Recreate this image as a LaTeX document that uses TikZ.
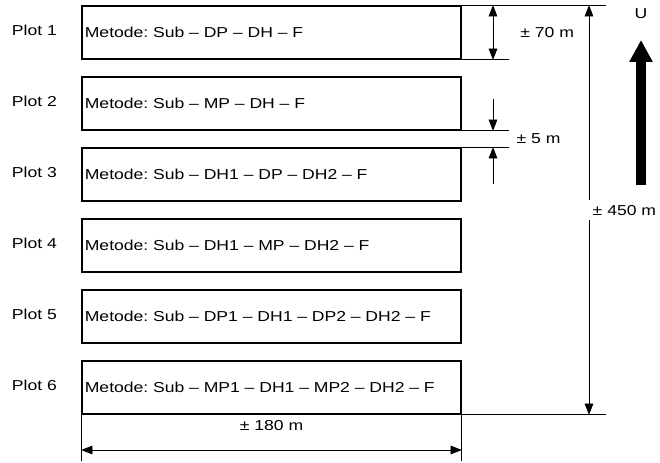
\documentclass[tikz,border=0pt]{standalone}
\usepackage{fontspec}
\setmainfont[FakeStretch=1.22]{Liberation Sans}
\usetikzlibrary{arrows.meta,positioning}
\frenchspacing

\begin{document}
\begin{tikzpicture}[
    font=\fontsize{12.3}{14}\selectfont,
    plotbox/.style={rectangle, draw=black, line width=1.5pt, minimum width=11.37cm, minimum height=1.59cm, text width=11.2cm, inner xsep=1pt, align=left, text height=0.3cm, text depth=0cm},
    plotlabel/.style={inner sep=0pt, text height=0.3cm, text depth=0cm, yshift=2pt},
    dimlabel/.style={inner sep=0pt, text height=0.3cm, text depth=0cm},
    dimline/.style={line width=0.7pt},
    dimarrow/.style={line width=0.7pt, >={Triangle[length=0.34cm,width=0.26cm]}}
]
\useasboundingbox (0,0) rectangle (19.8,-13.89);

% === PLOTS ===
\node[plotbox] (box1) at (8.145,-0.975) {Metode: Sub – DP – DH – F};
\node[plotbox] (box2) at (8.145,-3.105) {Metode: Sub – MP – DH – F};
\node[plotbox] (box3) at (8.145,-5.235) {Metode: Sub – DH1 – DP – DH2 – F};
\node[plotbox] (box4) at (8.145,-7.365) {Metode: Sub – DH1 – MP – DH2 – F};
\node[plotbox] (box5) at (8.145,-9.495) {Metode: Sub – DP1 – DH1 – DP2 – DH2 – F};
\node[plotbox] (box6) at (8.145,-11.625) {Metode: Sub – MP1 – DH1 – MP2 – DH2 – F};

\node[plotlabel, left=0.72cm of box1.west] (plot1) {Plot 1};
\node[plotlabel, left=0.72cm of box2.west] (plot2) {Plot 2};
\node[plotlabel, left=0.72cm of box3.west] (plot3) {Plot 3};
\node[plotlabel, left=0.72cm of box4.west] (plot4) {Plot 4};
\node[plotlabel, left=0.72cm of box5.west] (plot5) {Plot 5};
\node[plotlabel, left=0.72cm of box6.west] (plot6) {Plot 6};

% === EXTENSION LINES ===
\coordinate (dimx) at (14.79,0);
\coordinate (dimr) at (17.67,0);
\coordinate (dimb) at (0,-13.5);

\draw[dimline] (box1.north east) -- ++(4.32,0);
\draw[dimline] (box1.south east) -- ++(1.41,0);
\draw[dimline] (box2.south east) -- ++(1.41,0);
\draw[dimline] (box3.north east) -- ++(1.41,0);
\draw[dimline] (box6.south east) -- ++(4.32,0);
\draw[dimline] (box6.south west) -- ++(0,-1.38);
\draw[dimline] (box6.south east) -- ++(0,-1.38);

% === DIMENSIONS ===
\draw[dimarrow, <->] (box1.north east -| dimx) -- node[dimlabel, right=0.81cm] (h70) {± 70 m} (box1.south east -| dimx);

\draw[dimarrow, ->] (box2.south east -| dimx) ++(0,0.96) -- ++(0,-0.96);
\draw[dimarrow, ->] (box3.north east -| dimx) ++(0,-1.11) -- ++(0,1.11);
\path (box2.south east -| dimx) -- node[dimlabel, right=0.7cm] (h5) {± 5 m} (box3.north east -| dimx);

\draw[dimarrow, <->] (box1.north east -| dimr) -- node[pos=0.5, anchor=west, fill=white, xshift=-0.1cm, inner xsep=0.2cm, inner ysep=0.15cm, text height=0.3cm, text depth=0cm] (h450) {± 450 m} (box6.south east -| dimr);

\draw[dimarrow, <->] (box6.south west |- dimb) -- (box6.south east |- dimb);
\node[dimlabel, below=0.15cm of box6.south] (w180) {± 180 m};

% === NORTH ===
\node[dimlabel] (north) at (19.23,-0.42) {U};
\coordinate (ntail) at (19.23,-5.55);
\coordinate (ntip) at (19.23,-1.2);
\draw[line width=0.3cm, -{Triangle[length=0.66cm,width=0.66cm]}] (ntail) -- (ntip);

\end{tikzpicture}
\end{document}
